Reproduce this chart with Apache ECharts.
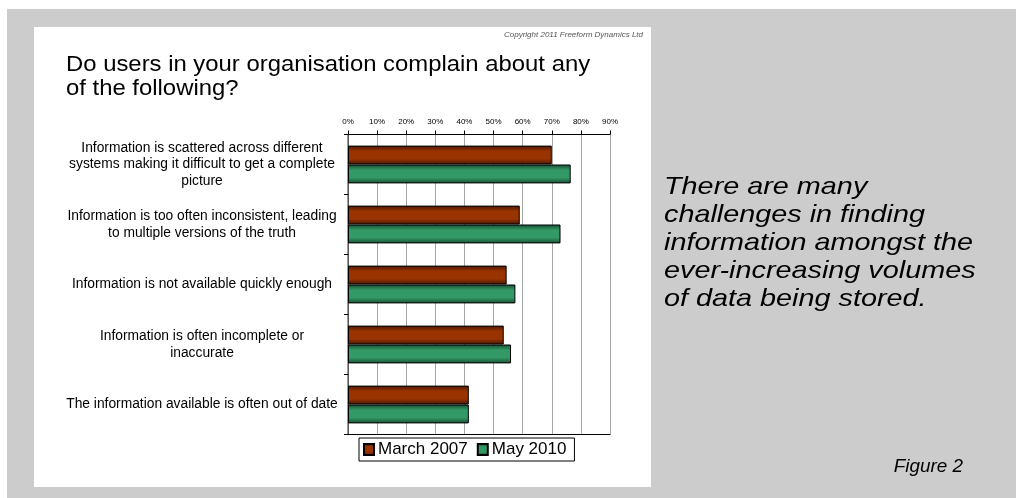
<!DOCTYPE html>
<html>
<head>
<meta charset="utf-8">
<script src="https://cdn.jsdelivr.net/npm/echarts@6/dist/echarts.min.js"></script>
<style>
html,body{margin:0;padding:0;background:#fff;}
#chart{width:1016px;height:498px;}
</style>
</head>
<body>
<div id="chart"></div>
<script>
const categories = [
  'Information is scattered across different\nsystems making it difficult to get a complete\npicture',
  'Information is too often inconsistent, leading\nto multiple versions of the truth',
  'Information is not available quickly enough',
  'Information is often incomplete or\ninaccurate',
  'The information available is often out of date'
];
const march2007 = [70, 59, 54.5, 53.5, 41.5];
const may2010 = [76.5, 73, 57.5, 56, 41.5];
const seriesNames = ['March 2007', 'May 2010'];
const titleLines = ['Do users in your organisation complain about any', 'of the following?'];
const sideText = ['There are many', 'challenges in finding', 'information amongst the', 'ever-increasing volumes', 'of data being stored.'];
const copyright = 'Copyright 2011 Freeform Dynamics Ltd';
const figureLabel = 'Figure 2';

const FONT = '"Liberation Sans", Arial, sans-serif';
function grad(dark, base) {
  return new echarts.graphic.LinearGradient(0, 0, 0, 1, [
    {offset: 0, color: dark},
    {offset: 0.3, color: base},
    {offset: 0.7, color: base},
    {offset: 1, color: dark}
  ]);
}
function txt(t, x, y, font, sx, align) {
  return {type: 'text', z: 10, x: x, y: y, scaleX: sx,
    style: {text: t, x: 0, y: 0, align: align || 'left', verticalAlign: 'middle', font: font, fill: '#000'}};
}
const chart = echarts.init(document.getElementById('chart'));
const graphics = [
  {type: 'rect', z: -100, shape: {x: 7, y: 9, width: 1009, height: 489}, style: {fill: '#cccccc'}},
  {type: 'rect', z: -99, shape: {x: 34, y: 27, width: 617, height: 460}, style: {fill: '#ffffff'}},
  {type: 'text', z: 10, style: {text: copyright, x: 643, y: 35, align: 'right', verticalAlign: 'middle', font: 'italic 8px ' + FONT, fill: '#555'}},
  txt(figureLabel, 963, 467, 'italic 18px ' + FONT, 1.05, 'right')
];
titleLines.forEach((t, i) => graphics.push(txt(t, 66, 65 + i * 24, '22px ' + FONT, 1.085)));
sideText.forEach((t, i) => graphics.push(txt(t, 664, 187 + i * 28, 'italic 24px ' + FONT, 1.2)));

chart.setOption({
  animation: false,
  backgroundColor: '#ffffff',
  graphic: graphics,
  grid: {left: 348, right: 406, top: 134.5, bottom: 63.5, containLabel: false},
  legend: {
    data: seriesNames,
    left: 359, top: 438,
    orient: 'horizontal',
    itemWidth: 10, itemHeight: 11, itemGap: 9,
    padding: [3, 8, 3, 4],
    borderColor: '#000', borderWidth: 1,
    backgroundColor: '#fff',
    icon: 'rect',
    textStyle: {fontFamily: FONT, fontSize: 17, color: '#000', padding: [0, 0, 0, -1]}
  },
  xAxis: [{
    type: 'value', position: 'top', min: 0, max: 90, interval: 10,
    axisLine: {show: true, lineStyle: {color: '#000', width: 1}},
    axisTick: {show: true, length: 4, lineStyle: {color: '#000'}},
    axisLabel: {fontFamily: FONT, fontSize: 8, color: '#000', margin: 9, formatter: v => v + '%'},
    splitLine: {show: true, lineStyle: {color: '#a6a6a6', width: 1}}
  }, {
    type: 'value', position: 'bottom', min: 0, max: 90, interval: 10,
    axisLine: {show: true, lineStyle: {color: '#000', width: 1}},
    axisTick: {show: false}, axisLabel: {show: false}, splitLine: {show: false}
  }],
  yAxis: [{
    type: 'category', data: categories, inverse: true,
    axisLine: {show: true, lineStyle: {color: '#000', width: 1}},
    axisTick: {show: true, length: 4, lineStyle: {color: '#000'}},
    axisLabel: {fontFamily: FONT, fontSize: 13.8, lineHeight: 16.5, color: '#000', align: 'center', margin: 146}
  }, {
    type: 'category', data: categories, inverse: true, position: 'right',
    axisLine: {show: true, lineStyle: {color: '#777', width: 1.5}},
    axisTick: {show: false}, axisLabel: {show: false}
  }],
  series: [{
    name: seriesNames[0], type: 'bar', data: march2007,
    barGap: '0%', barCategoryGap: '37%',
    itemStyle: {color: grad('#4a1800', '#993300'), borderColor: '#000', borderWidth: 1}
  }, {
    name: seriesNames[1], type: 'bar', data: may2010,
    barGap: '0%', barCategoryGap: '37%',
    itemStyle: {color: grad('#1a4d33', '#339966'), borderColor: '#000', borderWidth: 1}
  }]
});
</script>
</body>
</html>
